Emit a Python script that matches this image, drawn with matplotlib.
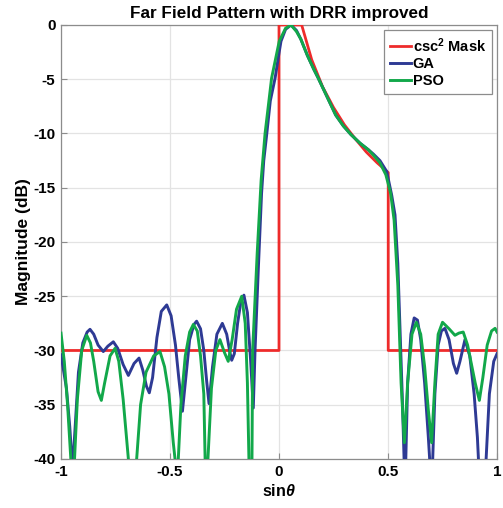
import numpy as np
import matplotlib.pyplot as plt

plt.rcParams['font.family'] = ['Liberation Sans', 'DejaVu Sans']
plt.rcParams['font.weight'] = 'bold'
plt.rcParams['axes.unicode_minus'] = False
plt.rcParams['mathtext.fontset'] = 'custom'
plt.rcParams['mathtext.rm'] = 'Liberation Sans:bold'
plt.rcParams['mathtext.it'] = 'Liberation Sans:italic:bold'

# csc^2 mask
mask_u = [-1.0, 0.0, 0.0, 0.104, 0.15, 0.2, 0.25, 0.3, 0.35, 0.4, 0.45, 0.501, 0.501, 1.0]
mask_db = [-30, -30, 0, 0, -3.2, -5.7, -7.6, -9.2, -10.5, -11.7, -12.7, -13.6, -30, -30]

# GA pattern
ga_u = [-1.0, -0.975, -0.96, -0.947, -0.935, -0.92, -0.9, -0.88, -0.867, -0.85, -0.83, -0.806,
        -0.785, -0.76, -0.74, -0.715, -0.691, -0.665, -0.642, -0.625, -0.608, -0.595, -0.58,
        -0.56, -0.54, -0.515, -0.495, -0.475, -0.46, -0.443, -0.43, -0.41, -0.39, -0.378,
        -0.36, -0.345, -0.332, -0.321, -0.305, -0.285, -0.26, -0.24, -0.225, -0.217, -0.205,
        -0.19, -0.175, -0.161, -0.145, -0.13, -0.118, -0.11, -0.095, -0.08, -0.07, -0.056,
        -0.04, -0.018, 0.0, 0.009, 0.03, 0.055, 0.08, 0.1, 0.13, 0.16, 0.18, 0.22, 0.26,
        0.295, 0.33, 0.372, 0.41, 0.433, 0.463, 0.494, 0.517, 0.532, 0.545, 0.555, 0.565,
        0.578, 0.59, 0.605, 0.62, 0.635, 0.65, 0.668, 0.685, 0.7, 0.715, 0.73, 0.745, 0.761,
        0.78, 0.8, 0.815, 0.83, 0.853, 0.875, 0.895, 0.91, 0.922, 0.936, 0.95, 0.965,
        0.985, 1.0]
ga_db = [-30.4, -33.5, -37, -41, -37, -32, -29.3, -28.3, -28.05, -28.5, -29.5, -30.1,
         -29.6, -29.2, -29.8, -31.3, -32.3, -31.2, -30.7, -31.8, -33.3, -33.9, -32.5,
         -28.8, -26.4, -25.8, -26.8, -29.5, -32.5, -35.6, -33, -29, -27.6, -27.3,
         -28, -30, -32.8, -34.9, -31.5, -28.5, -27.5, -28.5, -30.2, -30.9, -30.3,
         -27.5, -25.5, -24.9, -26.5, -31, -35.3, -30, -22.5, -15.5, -12.5, -10,
         -7, -4.9, -2.6, -1.5, -0.4, 0, -0.5, -1.3, -2.8, -4.1, -4.9, -6.6, -8.3,
         -9.3, -10.1, -10.9, -11.5, -11.9, -12.5, -13.5, -15.7, -17.5, -22, -28, -34,
         -43, -33, -28.5, -27, -27.2, -29, -33, -38, -43, -34, -29.5, -28.2, -27.96,
         -29, -31.2, -32.1, -31, -29.0, -30.5, -34, -38, -43, -45, -40, -34,
         -31, -30.3]

# PSO pattern
pso_u = [-1.0, -0.985, -0.97, -0.955, -0.947, -0.938, -0.925, -0.905, -0.882, -0.865, -0.85,
         -0.83, -0.815, -0.8, -0.775, -0.752, -0.735, -0.715, -0.691, -0.672, -0.653, -0.635,
         -0.61, -0.575, -0.546, -0.525, -0.505, -0.485, -0.477, -0.47, -0.462, -0.45, -0.43,
         -0.41, -0.393, -0.375, -0.36, -0.345, -0.339, -0.332, -0.326, -0.31, -0.29, -0.271,
         -0.25, -0.233, -0.215, -0.195, -0.171, -0.155, -0.145, -0.138, -0.131, -0.124,
         -0.121, -0.1, -0.082, -0.064, -0.034, 0.001, 0.03, 0.055, 0.08, 0.1, 0.13, 0.16,
         0.18, 0.22, 0.26, 0.295, 0.33, 0.372, 0.41, 0.433, 0.463, 0.49, 0.512, 0.528, 0.545,
         0.56, 0.575, 0.59, 0.61, 0.63, 0.65, 0.668, 0.685, 0.7, 0.715, 0.73, 0.75, 0.78,
         0.807, 0.825, 0.845, 0.865, 0.885, 0.9, 0.919, 0.935, 0.955, 0.975, 0.991, 1.0]
pso_db = [-28.4, -31, -35, -40, -44, -40, -34.5, -30, -28.6, -29.3, -31,
          -33.8, -34.6, -33, -30.5, -29.8, -31, -34.5, -40, -46, -40, -35,
          -32, -30.5, -30.1, -31.5, -34, -38.5, -40, -42, -40, -35, -30.5,
          -28.3, -27.6, -28.2, -30.5, -34, -40, -44, -40, -33.5, -30, -29.0,
          -30.2, -31.0, -29, -26.2, -25.0, -27.5, -33, -40, -46, -40,
          -30, -21, -14.3, -10, -4.9, -1.5, -0.3, 0, -0.6, -1.3, -2.8, -4.1,
          -4.9, -6.6, -8.3, -9.3, -10.1, -10.9, -11.5, -12.0, -12.7, -13.8, -15.5, -18, -24,
          -33, -38.5, -33, -28.5, -27.4, -28.5, -31.5, -35.5, -38.5, -33, -28.5, -27.4, -28,
          -28.6, -28.4, -28.3, -29.5, -31.5, -33, -34.6, -32.5, -29.5, -28.2, -27.96, -28.3]

fig = plt.figure(figsize=(5.03, 5.08), dpi=100)
ax = fig.add_axes([0.1213, 0.0965, 0.8668, 0.8543])

ax.plot(mask_u, mask_db, color='#ee2b2b', lw=2.0, label=r'csc$^2$ Mask', zorder=3)
ax.plot(ga_u, ga_db, color='#2e3a94', lw=2.1, label='GA', zorder=4)
ax.plot(pso_u, pso_db, color='#12a84a', lw=2.1, label='PSO', zorder=5)

ax.set_xlim(-1, 1)
ax.set_ylim(-40, 0)
ax.set_xticks([-1, -0.5, 0, 0.5, 1])
ax.set_xticklabels(['-1', '-0.5', '0', '0.5', '1'])
ax.set_yticks(np.arange(-40, 1, 5))
ax.grid(True, color='#e3e3e3', lw=0.9)
ax.set_axisbelow(True)
ax.tick_params(direction='in', length=4, color='#8c8c8c', labelsize=11, pad=4)
for s in ax.spines.values():
    s.set_color('#8c8c8c')
    s.set_linewidth(0.9)

ax.set_title('Far Field Pattern with DRR improved', fontsize=12.3, fontweight='bold', pad=5)
ax.set_xlabel(r'sin$\theta$', fontsize=11.5, fontweight='bold', labelpad=3)
ax.set_ylabel('Magnitude (dB)', fontsize=12.5, fontweight='bold', labelpad=2)

leg = ax.legend(loc='upper right', fontsize=10.5, handlelength=1.4, handletextpad=0.15,
                borderpad=0.4, labelspacing=0.2, fancybox=False, framealpha=1,
                borderaxespad=0.35)
leg.get_frame().set_edgecolor('#8c8c8c')
leg.get_frame().set_linewidth(0.9)

fig.savefig('out.png', dpi=100)
